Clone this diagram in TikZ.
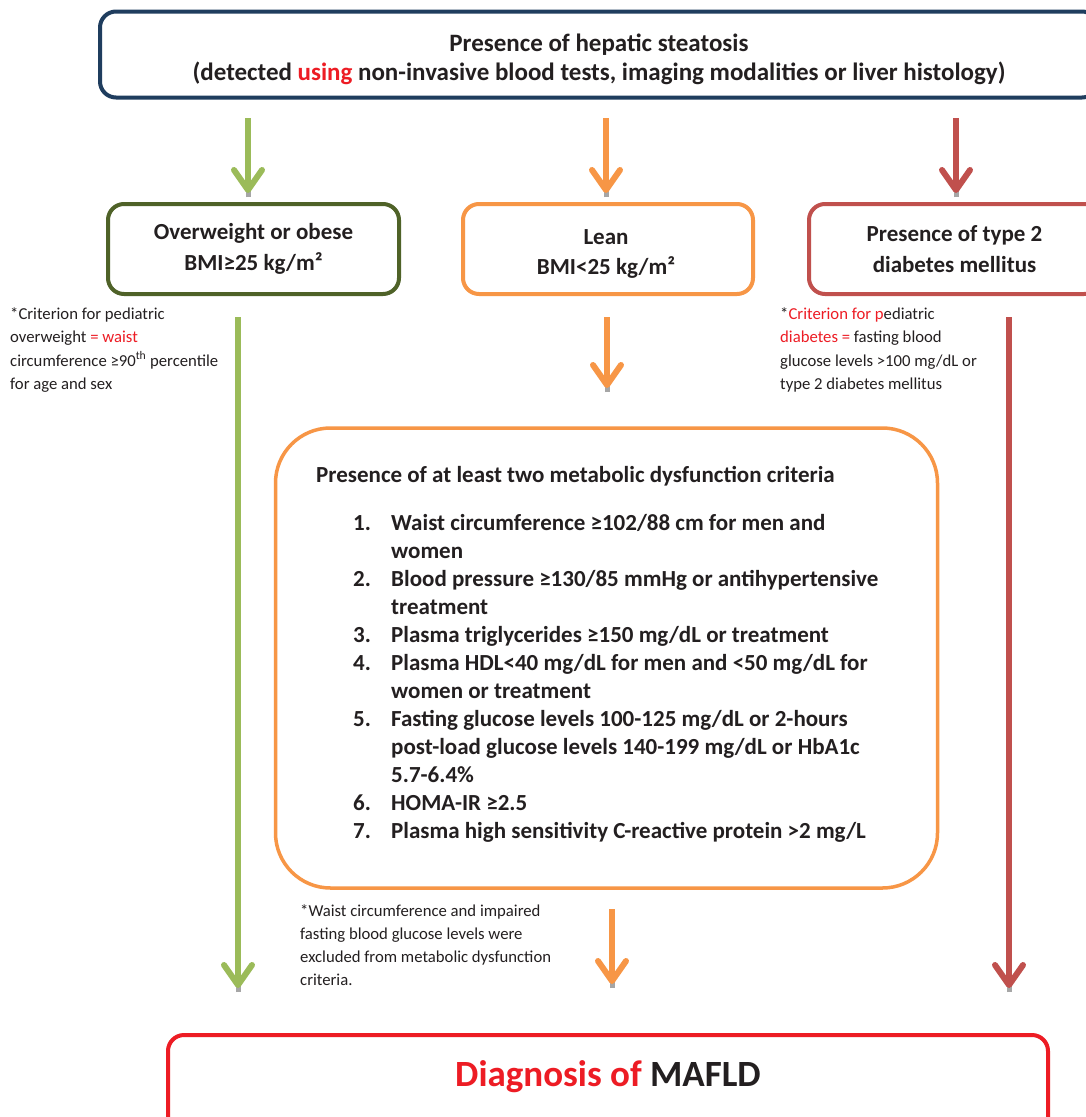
\documentclass[tikz,border=0pt]{standalone}
\usepackage{fontspec}
\setmainfont{Carlito}
\usetikzlibrary{arrows.meta}
\definecolor{topblue}{HTML}{1F3D5E}
\definecolor{dgreen}{HTML}{4F6228}
\definecolor{lgreen}{HTML}{9BBB59}
\definecolor{orng}{HTML}{F79646}
\definecolor{brick}{HTML}{C0504D}
\definecolor{bred}{HTML}{ED1C24}
\definecolor{ink}{HTML}{231F20}
\definecolor{shadowgray}{HTML}{A6A6A6}
\tikzset{
  box/.style={draw, line width=4pt, rounded corners=16pt, fill=white, align=center, text=ink, inner sep=0pt},
  boxtext/.style={font=\fontsize{23}{31}\selectfont\bfseries},
  note/.style={anchor=base west, align=left, inner sep=0pt, text=ink, font=\fontsize{16.7}{23.6}\selectfont},
  arr/.style={line width=6pt, -{Straight Barb[round, length=20pt, width=28pt]}},
  shadowbit/.style={line width=5pt, shadowgray},
}
\newcommand{\arrowdown}[3]{%
  \draw[shadowbit] ([yshift=-4pt]#3) -- ([yshift=5pt]#3);
  \draw[arr, #1] (#2) -- (#3);}
\begin{document}
\begin{tikzpicture}[x=1pt,y=-1pt]
\useasboundingbox (0,0) rectangle (1086,1117);
\clip (0,0) rectangle (1086,1117);
\fill[white] (0,0) rectangle (1086,1117);

% top box
\node[box, draw=topblue, minimum width=998pt, minimum height=86pt] (top) at (599,54.5) {};
\node[anchor=base, align=center, inner sep=0pt, text=ink, font=\fontsize{25}{29}\selectfont\bfseries] (toptext) at (599,80)
  {Presence of hepatic steatosis\\(detected \textcolor{bred}{using} non-invasive blood tests, imaging modalities or liver histology)};

% second row
\node[box, boxtext, draw=dgreen, minimum width=291pt, minimum height=90pt] (over) at (253.5,249)
  {Overweight or obese\\BMI≥25 kg/m²};
\node[box, draw=orng, minimum width=290pt, minimum height=90pt] (lean) at (608,249) {};
\node[anchor=base, align=center, inner sep=0pt, text=ink, boxtext, font=\fontsize{23}{30}\selectfont\bfseries] (leantext) at (606,274)
  {Lean\\BMI<25 kg/m²};
\node[box, boxtext, draw=brick, minimum width=291pt, minimum height=90pt] (diab) at (954.5,249)
  {Presence of type 2\\diabetes mellitus};

% notes
\node[note] (noteL) at (10,389.8)
  {*Criterion for pediatric\\overweight \textcolor{bred}{= waist}\\circumference ≥90\textsuperscript{th} percentile\\for age and sex};
\node[note] (noteR) at (780,389.8)
  {*\textcolor{bred}{Criterion for p}ediatric\\\textcolor{bred}{diabetes =} fasting blood\\glucose levels >100 mg/dL or\\type 2 diabetes mellitus};

% criteria box
\node[box, draw=orng, line width=3.5pt, rounded corners=55pt, minimum width=662pt, minimum height=460pt] (crit) at (606.5,658) {};
\node[anchor=base west, inner sep=0pt, text=ink, font=\fontsize{23}{28}\selectfont\bfseries] (crittitle) at (316,482)
  {Presence of at least two metabolic dysfunction criteria};
\node[anchor=base west, inner sep=0pt, align=left, text=ink, font=\fontsize{23}{28}\selectfont\bfseries] (critlist) at (353,838)
  {\makebox[38pt][l]{1.}Waist circumference ≥102/88 cm for men and\\
   \hspace*{38pt}women\\
   \makebox[38pt][l]{2.}Blood pressure ≥130/85 mmHg or antihypertensive\\
   \hspace*{38pt}treatment\\
   \makebox[38pt][l]{3.}Plasma triglycerides ≥150 mg/dL or treatment\\
   \makebox[38pt][l]{4.}Plasma HDL<40 mg/dL for men and <50 mg/dL for\\
   \hspace*{38pt}women or treatment\\
   \makebox[38pt][l]{5.}Fasting glucose levels 100-125 mg/dL or 2-hours\\
   \hspace*{38pt}post-load glucose levels 140-199 mg/dL or HbA1c\\
   \hspace*{38pt}5.7-6.4\%\\
   \makebox[38pt][l]{6.}HOMA-IR ≥2.5\\
   \makebox[38pt][l]{7.}Plasma high sensitivity C-reactive protein >2 mg/L};

\node[note, font=\fontsize{16.7}{23}\selectfont] (noteB) at (300,985)
  {*Waist circumference and impaired\\fasting blood glucose levels were\\excluded from metabolic dysfunction\\criteria.};

% bottom box
\node[box, draw=bred, minimum width=880pt, minimum height=120pt, anchor=north] (diag) at (608,1033) {};
\node[inner sep=0pt, anchor=base, font=\fontsize{37}{42}\selectfont\bfseries] (diagtext) at (608,1086)
  {\textcolor{bred}{Diagnosis of} \textcolor{ink}{MAFLD}};

% arrow coordinates
\coordinate (a1s) at (248,118);  \coordinate (a1e) at (248,193);
\coordinate (a2s) at (606,118);  \coordinate (a2e) at (606,193);
\coordinate (a3s) at (956,118);  \coordinate (a3e) at (956,193);
\coordinate (b1s) at (238,317);  \coordinate (b1e) at (238,988);
\coordinate (b2s) at (607,317);  \coordinate (b2e) at (607,388);
\coordinate (b3s) at (1009,317); \coordinate (b3e) at (1009,988);
\coordinate (c2s) at (612,909);  \coordinate (c2e) at (612,984);

\arrowdown{lgreen}{a1s}{a1e}
\arrowdown{orng}{a2s}{a2e}
\arrowdown{brick}{a3s}{a3e}
\arrowdown{lgreen}{b1s}{b1e}
\arrowdown{orng}{b2s}{b2e}
\arrowdown{brick}{b3s}{b3e}
\arrowdown{orng}{c2s}{c2e}
\end{tikzpicture}
\end{document}
